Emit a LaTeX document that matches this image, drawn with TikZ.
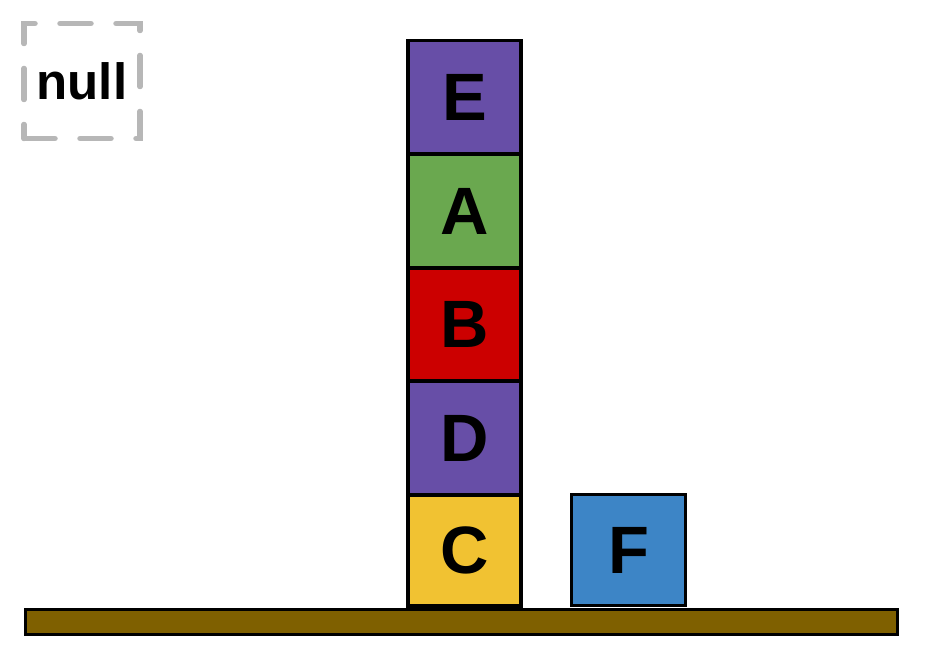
\documentclass[tikz,border=0pt]{standalone}
\usepackage{fontspec}
\setmainfont{Liberation Sans}
\definecolor{cpurple}{HTML}{674EA7}
\definecolor{cgreen}{HTML}{6AA84F}
\definecolor{cred}{HTML}{CC0000}
\definecolor{cyellow}{HTML}{F1C232}
\definecolor{cblue}{HTML}{3D85C6}
\definecolor{cground}{HTML}{7F6000}
\definecolor{cgray}{HTML}{B7B7B7}
\begin{document}
\begin{tikzpicture}[x=1pt,y=-1pt,
  block/.style={draw=black,line width=3.5pt,inner sep=0pt,minimum width=113pt,
    font=\fontsize{67}{67}\selectfont\bfseries},
  groundbar/.style={draw=black,line width=3.5pt,fill=cground,inner sep=0pt},
  nullbox/.style={draw=cgray,line width=5.5pt,line cap=round,dash pattern=on 31pt off 25pt,
    inner sep=0pt,minimum width=116pt,minimum height=115pt,
    font=\fontsize{51}{51}\selectfont\bfseries}]
\useasboundingbox (0,0) rectangle (935,671);
\node[groundbar,minimum width=872pt,minimum height=25pt] (ground) at (461.5,622) {};
\node[block,fill=cpurple,minimum height=113.5pt] (E) at (464.5,97.25) {E};
\node[block,fill=cgreen,minimum height=114pt] (A) at (464.5,211) {A};
\node[block,fill=cred,minimum height=113pt] (B) at (464.5,324.5) {B};
\node[block,fill=cpurple,minimum height=114pt] (D) at (464.5,438) {D};
\node[block,fill=cyellow,minimum height=111pt] (C) at (464.5,550.5) {C};
\node[block,fill=cblue,minimum width=114pt,minimum height=111pt] (F) at (628.5,550) {F};
\node[nullbox] (null) at (82,81) {null};
\end{tikzpicture}
\end{document}
